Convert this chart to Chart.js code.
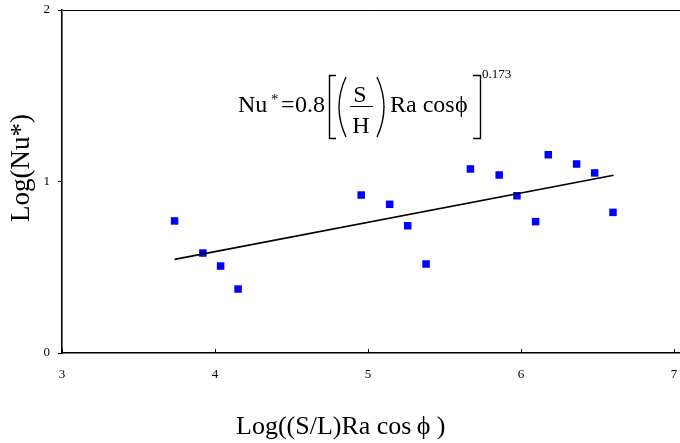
<!DOCTYPE html>
<html lang="en">
  <head>
    <meta charset="UTF-8" />
    <title>Log(Nu*)</title>
    <script src="https://cdn.jsdelivr.net/npm/chart.js@4.4.0/dist/chart.umd.min.js"></script>
    <style>
      body {
        margin: 0;
        padding: 0;
        background: #fff;
      }

      .chart-container {
        width: 680px;
        height: 443px;
        position: relative;
      }
    </style>
  </head>

  <body>
    <div class="chart-container">
      <canvas id="chart"></canvas>
    </div>

    <script>
      // measured points
      const logRa = [3.736, 3.921, 4.037, 4.151, 4.956, 5.142, 5.260, 5.380, 5.670, 5.858, 5.974, 6.096, 6.179, 6.364, 6.482, 6.602];
      const logNu = [0.770, 0.583, 0.507, 0.373, 0.921, 0.867, 0.742, 0.519, 1.073, 1.038, 0.917, 0.766, 1.156, 1.102, 1.050, 0.820];

      // correlation line end points
      const fitX = [3.736, 6.606];
      const fitY = [0.546, 1.036];

      const xTicks = [3, 4, 5, 6, 7];
      const yTicks = [0, 1, 2];

      const serif = "'Liberation Serif', 'DejaVu Serif', serif";

      const points = logRa.map((x, i) => ({ x: x, y: logNu[i] }));
      const fitLine = fitX.map((x, i) => ({ x: x, y: fitY[i] }));

      // titles, equation and inner ticks
      const extras = {
        id: "extras",
        afterDraw(chart) {
          const c = chart.ctx;
          const xs = chart.scales.x;
          c.save();
          c.strokeStyle = "#000";
          c.fillStyle = "#000";
          c.lineWidth = 1;
          xs.ticks.forEach((t) => {
            const px = Math.round(xs.getPixelForValue(t.value)) + 0.5;
            c.beginPath();
            c.moveTo(px, xs.top);
            c.lineTo(px, xs.top - 4);
            c.stroke();
          });

          // axis titles
          c.textBaseline = "alphabetic";
          c.textAlign = "left";
          c.font = "26px " + serif;
          c.fillText("Log((S/L)Ra cos\u2009\u03d5 )", 236, 434);

          c.save();
          c.translate(29, 168);
          c.rotate(-Math.PI / 2);
          c.textAlign = "center";
          c.font = "27px " + serif;
          c.fillText("Log(Nu*)", 0, 0);
          c.restore();

          // equation
          c.font = "24px " + serif;
          c.fillText("Nu", 238, 112);
          c.font = "15px " + serif;
          c.fillText("*", 271, 104);
          c.font = "24px " + serif;
          c.fillText("=", 281, 112);
          c.fillText("0.8", 295, 112);

          c.lineWidth = 1.4;
          // left bracket
          c.beginPath();
          c.moveTo(336, 75.5);
          c.lineTo(329.5, 75.5);
          c.lineTo(329.5, 138.5);
          c.lineTo(336, 138.5);
          c.stroke();
          // right bracket
          c.beginPath();
          c.moveTo(473, 75.5);
          c.lineTo(480.5, 75.5);
          c.lineTo(480.5, 138.5);
          c.lineTo(473, 138.5);
          c.stroke();
          // parentheses
          c.beginPath();
          c.moveTo(346, 77);
          c.quadraticCurveTo(332, 107, 346, 137);
          c.stroke();
          c.beginPath();
          c.moveTo(377, 77);
          c.quadraticCurveTo(391, 107, 377, 137);
          c.stroke();

          c.textAlign = "center";
          c.fillText("S", 360, 102);
          c.fillText("H", 361, 133);
          c.lineWidth = 1;
          c.beginPath();
          c.moveTo(350, 106.5);
          c.lineTo(373, 106.5);
          c.stroke();

          c.textAlign = "left";
          c.fillText("Ra cos", 390, 112);
          c.fillText("\u03d5", 455, 112);
          c.font = "13px " + serif;
          c.fillText("0.173", 482, 78);
          c.restore();
        },
      };

      var ctx = document.getElementById("chart").getContext("2d");
      var myChart = new Chart(ctx, {
        type: "scatter",
        data: {
          datasets: [
            {
              label: "data",
              data: points,
              backgroundColor: "#0000ff",
              borderWidth: 0,
              pointStyle: "rect",
              pointRadius: 5.3,
              pointHoverRadius: 5.3,
              order: 2,
            },
            {
              label: "fit",
              data: fitLine,
              showLine: true,
              borderColor: "#000",
              borderWidth: 1.6,
              pointRadius: 0,
              fill: false,
              order: 1,
            },
          ],
        },
        options: {
          responsive: true,
          maintainAspectRatio: false,
          animation: false,
          events: [],
          layout: {
            autoPadding: false,
            padding: { top: 10, right: 0, bottom: 0, left: 0 },
          },
          plugins: {
            legend: { display: false },
            tooltip: { enabled: false },
          },
          scales: {
            x: {
              type: "linear",
              min: 3,
              max: 7.04,
              afterBuildTicks: (scale) => {
                scale.ticks = xTicks.map((v) => ({ value: v }));
              },
              afterFit: (scale) => {
                scale.height = 90;
                scale.paddingLeft = 0;
                scale.paddingRight = 0;
              },
              grid: {
                drawOnChartArea: false,
                drawTicks: false,
              },
              border: { color: "#000", width: 1.6 },
              ticks: {
                color: "#000",
                padding: 14,
                maxRotation: 0,
                font: { family: serif, size: 13 },
              },
            },
            y: {
              type: "linear",
              min: 0,
              max: 2,
              afterBuildTicks: (scale) => {
                scale.ticks = yTicks.map((v) => ({ value: v }));
              },
              afterFit: (scale) => {
                scale.width = 62;
                scale.paddingTop = 0;
                scale.paddingBottom = 0;
              },
              grid: {
                color: (c) => (c.tick && c.tick.value === 2 ? "#000" : "rgba(0,0,0,0)"),
                lineWidth: 1,
                tickColor: "#000",
                tickLength: 4,
              },
              border: { color: "#000", width: 1.6 },
              ticks: {
                color: "#000",
                padding: 8,
                font: { family: serif, size: 13 },
              },
            },
          },
        },
        plugins: [extras],
      });
    </script>
  </body>
</html>
